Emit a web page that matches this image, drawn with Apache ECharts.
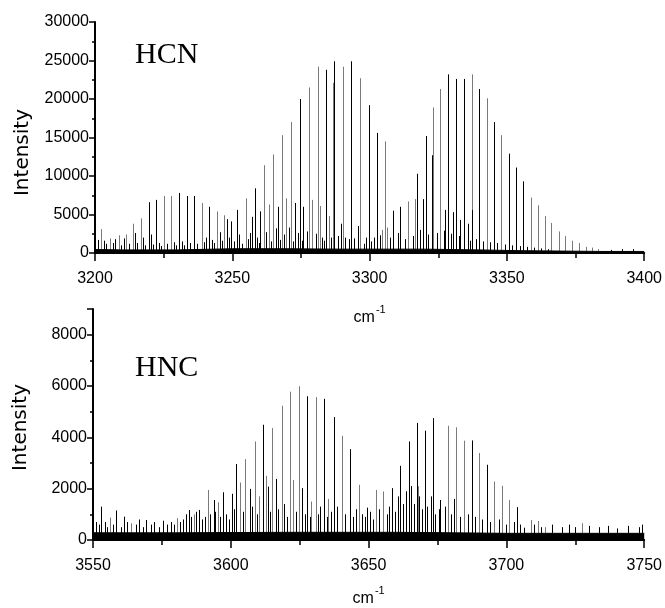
<!DOCTYPE html>
<html>
<head>
<meta charset="utf-8">
<script src="https://cdn.jsdelivr.net/npm/echarts@6/dist/echarts.min.js"></script>
<style>
html, body { margin: 0; padding: 0; background: #fff; }
#chart { width: 665px; height: 608px; }
</style>
</head>
<body>
<div id="chart"></div>
<script>
// HCN band (top panel): strong lines, split by trace colour
var hcnBlackX = [3219.5, 3222.1, 3230.7, 3233.5, 3236.0, 3241.5, 3248.1, 3249.6, 3251.7, 3257.1, 3258.2, 3260.1, 3266.5, 3272.9, 3274.7, 3275.9,
  3284.1, 3287.1, 3293.4, 3299.6, 3302.6, 3308.5, 3311.2, 3317.2, 3319.5, 3320.4, 3322.9, 3327.6, 3328.7, 3330.4, 3331.6, 3333.1,
  3334.4, 3335.9, 3337.4, 3340.0, 3345.3, 3350.7, 3353.4, 3356.0];
var hcnBlackY = [6600, 6900, 7800, 7400, 7400, 6000, 4400, 4100, 5600, 4700, 8400, 5400, 6000, 6500, 20000, 6000,
  23800, 24900, 24900, 19200, 15600, 5500, 6000, 10300, 7000, 15200, 12700, 5600, 23200, 5300, 22600, 4300,
  22600, 3800, 5600, 21300, 17000, 12900, 11100, 9300];
var hcnGrayX = [3202.1, 3205.4, 3208.8, 3211.3, 3213.7, 3216.6, 3225.2, 3227.8, 3238.8, 3244.3, 3246.8, 3254.9, 3261.7, 3263.4, 3265.0,
  3268.2, 3269.7, 3271.4, 3277.8, 3279.0, 3281.1, 3282.0, 3285.2, 3286.6, 3290.4, 3296.5, 3304.6, 3305.5, 3306.5, 3314.0, 3316.6,
  3323.2, 3325.5, 3325.8, 3337.2, 3342.6, 3348.0, 3358.6, 3361.2, 3363.7, 3366.2, 3368.8, 3371.3, 3373.8, 3376.3, 3378.7,
  3381.1, 3383.3];
var hcnGrayY = [3100, 1900, 2300, 2400, 3800, 4500, 7400, 7400, 6500, 5400, 4900, 7100, 11400, 6300, 12800,
  15300, 7100, 17000, 21500, 6900, 24200, 6100, 4800, 22100, 24200, 22700, 3000, 14500, 3300, 6700, 7000,
  18900, 6000, 21300, 23200, 20100, 15300, 7200, 6200, 4800, 3900, 2800, 2200, 1600, 1300, 800,
  700, 500];
// HCN weak lines near the baseline
var hcnWeakX = [3201.0, 3203.3, 3204.1, 3206.5, 3207.3, 3209.6, 3210.4, 3212.5, 3214.6, 3215.3, 3217.4, 3218.2, 3220.4, 3221.0,
  3223.3, 3224.1, 3226.3, 3228.9, 3229.6, 3231.8, 3232.5, 3234.6, 3237.2, 3239.6, 3240.4, 3242.5, 3243.2, 3245.4, 3246.1,
  3248.8, 3250.5, 3252.5, 3253.6, 3255.8, 3256.5, 3259.1, 3259.8, 3262.4, 3264.2, 3265.8, 3267.3, 3269.0, 3270.6, 3272.2,
  3274.0, 3275.3, 3277.1, 3280.3, 3282.6, 3283.5, 3285.8, 3288.6, 3289.6, 3291.2, 3292.6, 3294.5, 3295.7, 3297.8, 3298.7,
  3300.5, 3301.5, 3303.8, 3307.4, 3310.2, 3313.0, 3315.7, 3318.3, 3321.3, 3324.4, 3327.0, 3329.8, 3332.5, 3336.5, 3338.7,
  3341.3, 3344.0, 3346.5, 3349.3, 3352.0, 3354.6, 3357.2, 3360.0, 3362.5, 3365.0, 3388.0, 3392.0, 3396.0];
var hcnWeakY = [1700, 1600, 1200, 1300, 1800, 1000, 1900, 1200, 2600, 1300, 2000, 1000, 2400, 1100,
  1300, 900, 1200, 1400, 1000, 1500, 1000, 1300, 1200, 1400, 2000, 1700, 1300, 2700, 1600,
  2000, 1500, 2400, 1200, 1800, 2600, 2000, 1300, 2700, 1500, 3200, 1700, 2400, 3300, 1500,
  2600, 1600, 2800, 2500, 2000, 1600, 2000, 2200, 3800, 2000, 1800, 1900, 3500, 1200, 2000,
  1500, 2000, 2300, 2000, 2600, 1800, 2200, 3000, 2400, 2600, 2900, 2500, 2200, 1600, 1800,
  1500, 1400, 1300, 1100, 1000, 900, 800, 700, 600, 500, 400, 500, 500];
// HCN noise floor envelope
var hcnFloorX = [3200, 3210, 3230, 3250, 3270, 3290, 3305, 3320, 3340, 3355, 3370, 3385, 3400];
var hcnFloorY = [450, 400, 400, 550, 550, 500, 500, 500, 400, 300, 250, 200, 200];

// HNC band (bottom panel)
var hncBlackX = [3553.0, 3558.5, 3561.2, 3569.3, 3584.8, 3588.3, 3593.8, 3597.1, 3600.6, 3602.0, 3606.8, 3611.8, 3613.4, 3616.4,
  3625.9, 3627.8, 3632.3, 3633.9, 3637.3, 3643.4, 3649.6, 3658.5, 3661.5, 3664.5, 3667.4, 3670.3, 3673.2, 3676.0,
  3687.5, 3692.8, 3703.8, 3706.3];
var hncBlackY = [1300, 1150, 910, 780, 1170, 1170, 1560, 1860, 1800, 2960, 1990, 4490, 2080, 2380,
  2020, 5600, 1300, 5500, 4790, 3540, 1260, 2020, 2890, 3840, 4560, 4260, 4750, 1560,
  3880, 2930, 1280, 480];
var hncGrayX = [3556.1, 3563.9, 3580.6, 3586.6, 3591.7, 3595.3, 3603.5, 3605.2, 3608.6, 3610.1, 3612.6, 3615.0, 3618.4, 3621.5,
  3622.7, 3624.6, 3629.2, 3630.9, 3635.2, 3640.4, 3646.6, 3652.7, 3655.4, 3668.0, 3678.8, 3681.8, 3684.6, 3690.1,
  3695.5, 3698.3, 3701.0, 3708.9, 3711.4, 3714.0, 3727.5];
var hncGrayY = [870, 650, 850, 1000, 1950, 1470, 2240, 3150, 3840, 1700, 2500, 4360, 5230, 5780,
  2340, 5990, 1500, 5570, 1600, 4060, 2150, 1950, 1890, 2100, 4450, 4390, 3870, 3390,
  2280, 2110, 1560, 780, 740, 500, 650];
var hncWeakX = [3551.0, 3552.0, 3554.5, 3555.2, 3557.3, 3560.0, 3562.5, 3565.5, 3566.6, 3568.0, 3571.0, 3572.3, 3574.0, 3575.5,
  3577.0, 3578.4, 3579.3, 3581.6, 3582.8, 3583.6, 3585.6, 3587.2, 3589.5, 3590.5, 3592.6, 3594.4, 3596.2, 3598.3, 3599.2,
  3601.2, 3604.3, 3607.6, 3609.4, 3614.2, 3617.2, 3619.4, 3620.4, 3623.6, 3626.8, 3628.8, 3631.8, 3634.8, 3636.3, 3638.6,
  3641.5, 3644.5, 3645.6, 3647.6, 3648.6, 3650.6, 3651.7, 3653.7, 3656.5, 3657.5, 3659.5, 3660.5, 3662.5, 3663.5, 3665.5,
  3666.4, 3668.4, 3669.3, 3671.3, 3672.7, 3674.2, 3675.4, 3677.8, 3680.0, 3681.0, 3683.0, 3686.0, 3688.6, 3691.3, 3694.0,
  3697.2, 3699.8, 3702.6, 3705.0, 3710.0, 3712.5, 3716.5, 3720.0, 3722.6, 3725.0, 3730.0, 3733.5, 3737.0, 3740.0, 3744.0,
  3748.0, 3749.3];
var hncWeakY = [700, 600, 700, 500, 600, 500, 700, 600, 800, 500, 600, 700, 500, 750,
  600, 700, 600, 700, 800, 1000, 900, 1100, 800, 900, 1000, 1100, 900, 1000, 800,
  1200, 1100, 1300, 1000, 1100, 1200, 1400, 900, 1100, 1000, 900, 1000, 900, 1100, 1300,
  1000, 900, 1200, 1000, 900, 1100, 800, 1200, 1000, 1300, 1100, 1700, 1400, 1900, 2100,
  1400, 1700, 1200, 1300, 1700, 1000, 1200, 1300, 1000, 1600, 900, 1000, 900, 800, 700,
  800, 600, 700, 600, 600, 500, 600, 500, 600, 500, 550, 500, 550, 450, 550,
  500, 600];
var hncFloorX = [3550, 3580, 3620, 3660, 3700, 3750];
var hncFloorY = [280, 280, 300, 300, 260, 260];

var hcnTicks = [3200, 3400, 50];
var hncTicks = [3550, 3750, 50];

function pairs(xs, ys) {
  return xs.map(function (x, i) { return [x, ys[i]]; });
}

// each line drawn as a vertical stem from 0 up to its intensity
function stems(color) {
  return function (params, api) {
    var x = api.value(0), h = api.value(1);
    var b = api.coord([x, 0]);
    var t = api.coord([x, h]);
    var px = Math.round(b[0]) + 0.5;
    return {
      type: 'line',
      shape: { x1: px, y1: b[1], x2: px, y2: t[1] },
      style: { stroke: color, lineWidth: 1 }
    };
  };
}

function stemSeries(idx, xs, ys, color) {
  return {
    type: 'custom', xAxisIndex: idx, yAxisIndex: idx, silent: true,
    renderItem: stems(color), encode: { x: 0, y: 1 }, data: pairs(xs, ys)
  };
}

function floorSeries(idx, xs, ys) {
  return {
    type: 'line', xAxisIndex: idx, yAxisIndex: idx, silent: true, symbol: 'none',
    lineStyle: { width: 1, color: '#000' }, areaStyle: { color: '#000', opacity: 1 },
    data: pairs(xs, ys)
  };
}

var labelFont = { color: '#000', fontFamily: 'Liberation Sans', fontSize: 16 };
function plain(v) { return String(v); }

function xAx(idx, t, gap) {
  return {
    type: 'value', gridIndex: idx, min: t[0], max: t[1], interval: t[2],
    name: '{a|cm}{b|-1}', nameLocation: 'middle', nameGap: gap,
    nameTextStyle: {
      rich: {
        a: { fontFamily: 'Liberation Sans', fontSize: 16, color: '#000', lineHeight: 22, verticalAlign: 'bottom' },
        b: { fontFamily: 'Liberation Sans', fontSize: 11, color: '#000', lineHeight: 22, verticalAlign: 'top', padding: [0, 0, 0, 1] }
      }
    },
    axisLine: { show: true, onZero: false, lineStyle: { color: '#000', width: 2 } },
    axisTick: { show: true, length: 8, lineStyle: { color: '#000', width: 1.5 } },
    minorTick: { show: true, splitNumber: 2, length: 5, lineStyle: { color: '#000', width: 1.5 } },
    splitLine: { show: false },
    axisLabel: Object.assign({ margin: 18, formatter: plain }, labelFont)
  };
}

function yAx(idx, max, interval, pad) {
  return {
    type: 'value', gridIndex: idx, min: 0, max: max, interval: interval,
    name: 'Intensity', nameLocation: 'middle', nameRotate: 90, nameGap: 62,
    nameTextStyle: { color: '#000', fontFamily: 'DejaVu Sans', fontSize: 20, padding: pad },
    axisLine: { show: true, lineStyle: { color: '#000', width: 2 } },
    axisTick: { show: true, length: 6, lineStyle: { color: '#000', width: 1.5 } },
    minorTick: { show: true, splitNumber: 2, length: 3, lineStyle: { color: '#000', width: 1.5 } },
    splitLine: { show: false },
    axisLabel: Object.assign({ margin: 6, formatter: plain, showMaxLabel: max % interval === 0 }, labelFont)
  };
}

var chart = echarts.init(document.getElementById('chart'), null, { renderer: 'canvas' });
var option = {
  animation: false,
  backgroundColor: '#fff',
  grid: [
    { left: 95, right: 19, top: 22, height: 231 },
    { left: 93, right: 20, top: 309, height: 231 }
  ],
  xAxis: [xAx(0, hcnTicks, 51), xAx(1, hncTicks, 45)],
  yAxis: [yAx(0, 30000, 5000, [0, 30, 0, 0]), yAx(1, 9000, 2000, [0, 6, 0, 0])],
  graphic: [
    { type: 'text', left: 135, top: 40, style: { text: 'HCN', font: '30px "Liberation Serif"', fill: '#000' } },
    { type: 'text', left: 135, top: 353, style: { text: 'HNC', font: '30px "Liberation Serif"', fill: '#000' } }
  ],
  series: [
    floorSeries(0, hcnFloorX, hcnFloorY),
    stemSeries(0, hcnWeakX, hcnWeakY, '#000'),
    stemSeries(0, hcnGrayX, hcnGrayY, '#7a7a7a'),
    stemSeries(0, hcnBlackX, hcnBlackY, '#000'),
    floorSeries(1, hncFloorX, hncFloorY),
    stemSeries(1, hncWeakX, hncWeakY, '#000'),
    stemSeries(1, hncGrayX, hncGrayY, '#7a7a7a'),
    stemSeries(1, hncBlackX, hncBlackY, '#000')
  ]
};
chart.setOption(option);
</script>
</body>
</html>
